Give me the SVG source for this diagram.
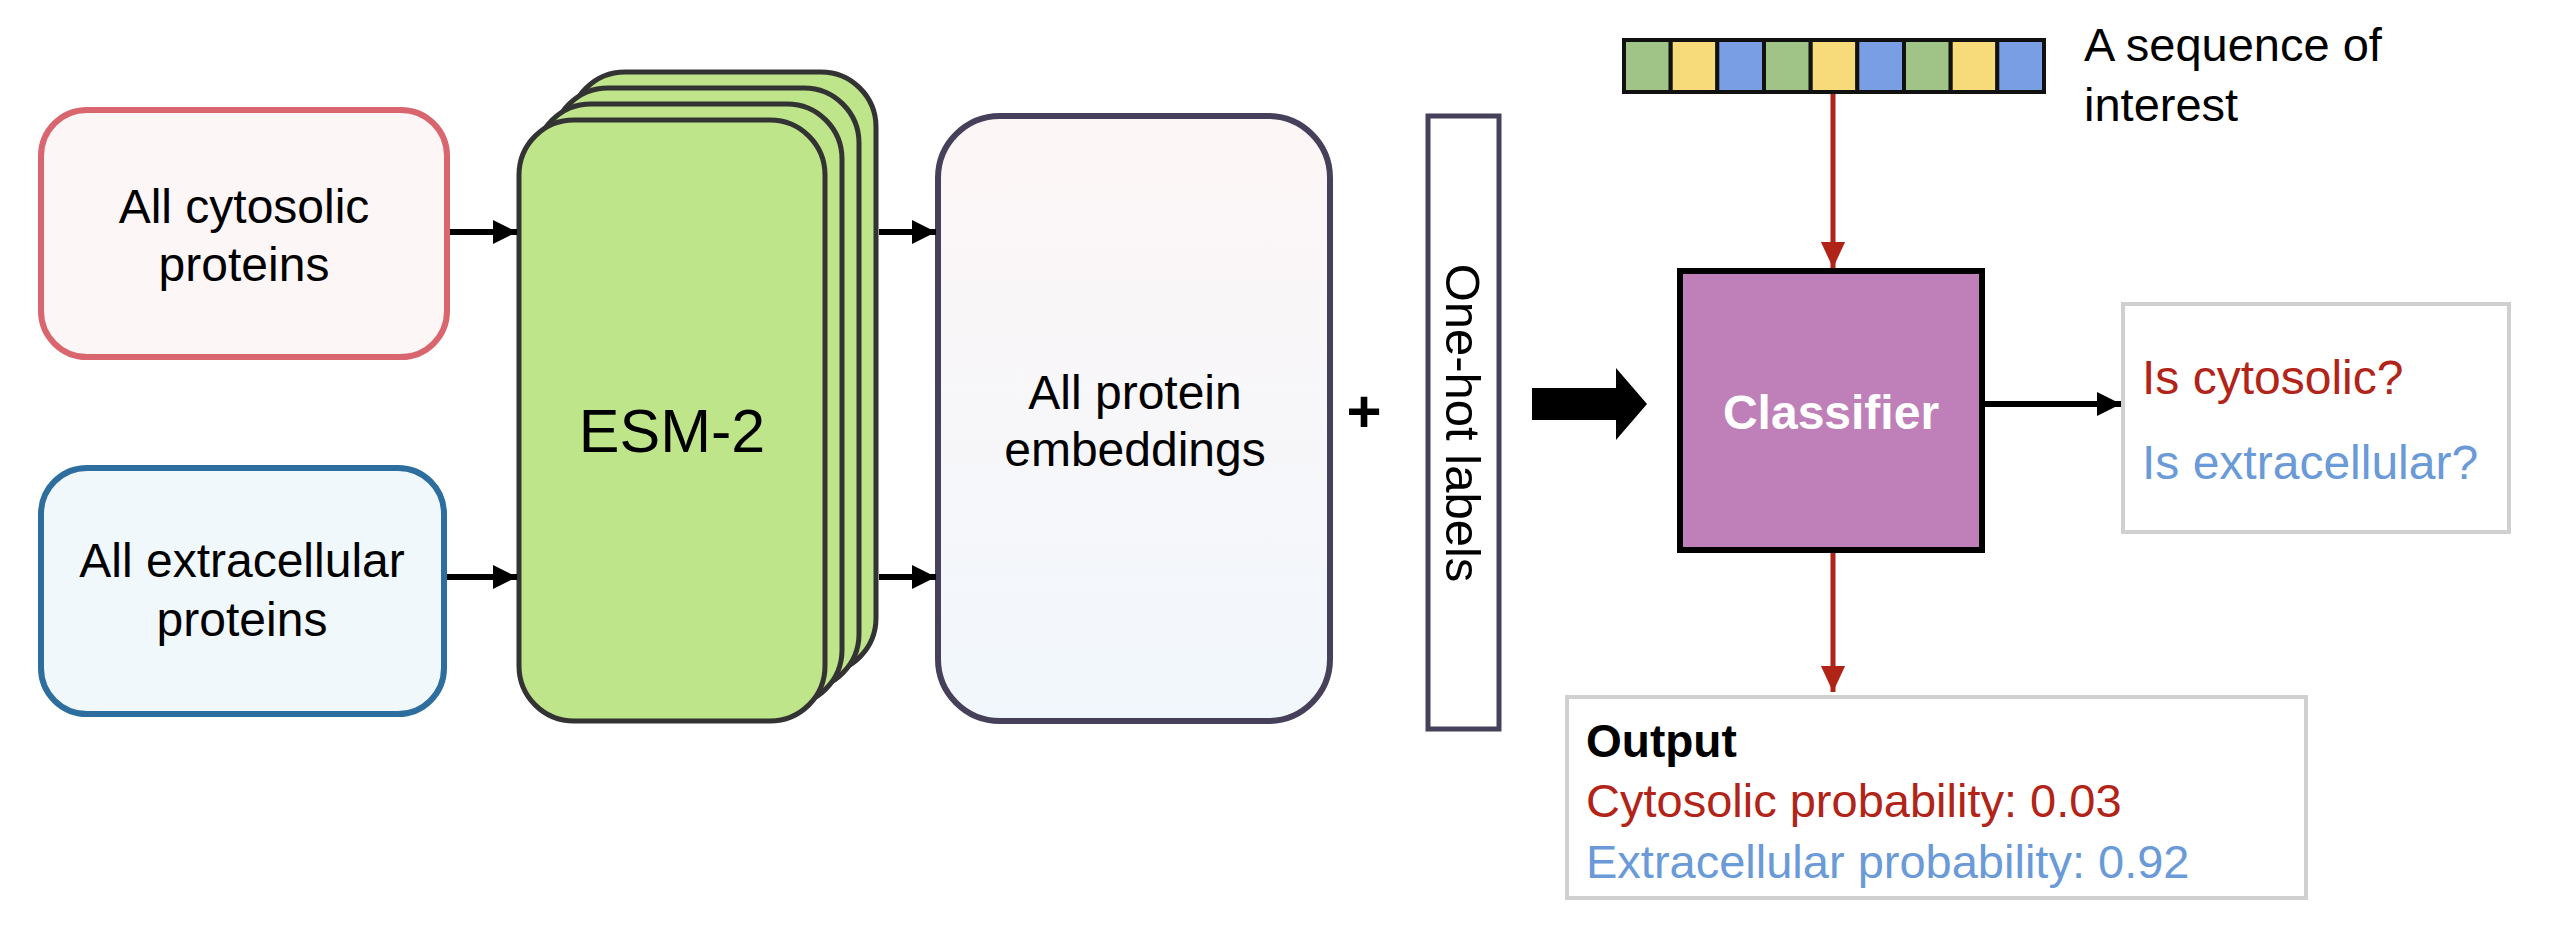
<svg xmlns="http://www.w3.org/2000/svg" width="2568" height="942" viewBox="0 0 2568 942">
<defs>
<style>
.t{font-family:"Liberation Sans",Arial,sans-serif;fill:#000}
.c{text-anchor:middle}
.card{fill:#BFE58A;stroke:#333333;stroke-width:5}
.blk{stroke:#000;stroke-width:6;fill:none}
.red{stroke:#B02418;stroke-width:5;fill:none}
.seq{stroke:#111;stroke-width:4}
</style>
<marker id="ab" markerUnits="userSpaceOnUse" markerWidth="26" markerHeight="26" refX="24" refY="13" orient="auto"><path d="M0,1 L24,13 L0,25 z" fill="#000"/></marker>
<marker id="ar" markerUnits="userSpaceOnUse" markerWidth="26" markerHeight="30" refX="28" refY="13" orient="auto" viewBox="0 0 28 26"><path d="M0,0 L28,13 L0,26 z" fill="#B02418"/></marker>
<linearGradient id="gEmb" x1="0" y1="0" x2="0" y2="1"><stop offset="0" stop-color="#FDF6F6"/><stop offset="1" stop-color="#F1F7FC"/></linearGradient>
</defs>
<rect width="2568" height="942" fill="#fff"/>

<g id="cytosolic">
<rect x="41" y="110" width="406" height="247" rx="46" fill="#FDF6F6" stroke="#D9666F" stroke-width="6"/>
<text class="t c" x="244" y="223" font-size="48">All cytosolic</text>
<text class="t c" x="244" y="281" font-size="48">proteins</text>
</g>

<g id="extracellular">
<rect x="41" y="468" width="403" height="246" rx="46" fill="#F1F8FC" stroke="#2E6E9E" stroke-width="6"/>
<text class="t c" x="242" y="577" font-size="48">All extracellular</text>
<text class="t c" x="242" y="636" font-size="48">proteins</text>
</g>

<g id="esm2">
<rect class="card" x="570" y="72" width="306" height="601" rx="55"/>
<rect class="card" x="553" y="88" width="306" height="601" rx="55"/>
<rect class="card" x="536" y="104" width="306" height="601" rx="55"/>
<rect class="card" x="519" y="120" width="306" height="601" rx="55"/>
<text class="t c" x="672" y="452" font-size="61">ESM-2</text>
</g>

<g id="embeddings">
<rect x="938" y="116" width="392" height="605" rx="62" fill="url(#gEmb)" stroke="#46405A" stroke-width="6"/>
<text class="t c" x="1135" y="409" font-size="48">All protein</text>
<text class="t c" x="1135" y="466" font-size="48">embeddings</text>
</g>

<g id="plus">
<text class="t c" x="1364" y="432" font-size="60" font-weight="bold">+</text>
</g>

<g id="onehot">
<rect x="1428" y="116" width="71" height="613" fill="#fff" stroke="#46405A" stroke-width="5"/>
<text class="t c" transform="translate(1463,423) rotate(90)" x="0" y="17" font-size="49">One-hot labels</text>
</g>

<g id="sequence">
<rect x="1624" y="40" width="420" height="52" fill="#fff" class="seq"/>
<rect x="1624" y="40" width="46.7" height="52" fill="#A0C487" class="seq"/>
<rect x="1670.7" y="40" width="46.7" height="52" fill="#F7DA7A" class="seq"/>
<rect x="1717.3" y="40" width="46.7" height="52" fill="#7A9EE4" class="seq"/>
<rect x="1764" y="40" width="46.7" height="52" fill="#A0C487" class="seq"/>
<rect x="1810.7" y="40" width="46.7" height="52" fill="#F7DA7A" class="seq"/>
<rect x="1857.3" y="40" width="46.7" height="52" fill="#7A9EE4" class="seq"/>
<rect x="1904" y="40" width="46.7" height="52" fill="#A0C487" class="seq"/>
<rect x="1950.7" y="40" width="46.7" height="52" fill="#F7DA7A" class="seq"/>
<rect x="1997.3" y="40" width="46.7" height="52" fill="#7A9EE4" class="seq"/>
<text class="t" x="2084" y="61" font-size="47">A sequence of</text>
<text class="t" x="2084" y="121" font-size="47">interest</text>
</g>

<g id="classifier">
<rect x="1680" y="271" width="302" height="279" fill="#BF80B9" stroke="#000" stroke-width="6"/>
<text class="c" x="1831" y="429" font-size="48" font-weight="bold" fill="#fff" font-family="Liberation Sans,Arial,sans-serif">Classifier</text>
</g>

<g id="question">
<rect x="2123" y="304" width="386" height="228" fill="#fff" stroke="#D0D0D0" stroke-width="4"/>
<text x="2142" y="394" font-size="48" fill="#B22418" font-family="Liberation Sans,Arial,sans-serif">Is cytosolic?</text>
<text x="2142" y="479" font-size="48" fill="#6A9AD8" font-family="Liberation Sans,Arial,sans-serif">Is extracellular?</text>
</g>

<g id="output">
<rect x="1567" y="697" width="739" height="201" fill="#fff" stroke="#D0D0D0" stroke-width="4"/>
<text class="t" x="1586" y="757" font-size="46" font-weight="bold">Output</text>
<text x="1586" y="817" font-size="47" fill="#B22418" font-family="Liberation Sans,Arial,sans-serif">Cytosolic probability: 0.03</text>
<text x="1586" y="878" font-size="47" fill="#6A9AD8" font-family="Liberation Sans,Arial,sans-serif">Extracellular probability: 0.92</text>
</g>

<g id="connectors">
<line class="blk" x1="450" y1="232" x2="517" y2="232" marker-end="url(#ab)"/>
<line class="blk" x1="447" y1="577" x2="517" y2="577" marker-end="url(#ab)"/>
<line class="blk" x1="879" y1="232" x2="936" y2="232" marker-end="url(#ab)"/>
<line class="blk" x1="879" y1="577" x2="936" y2="577" marker-end="url(#ab)"/>
<path d="M1532,388 L1616,388 L1616,368 L1647,404 L1616,440 L1616,420 L1532,420 z" fill="#000"/>
<line class="blk" x1="1985" y1="404" x2="2121" y2="404" marker-end="url(#ab)"/>
<line class="red" x1="1833" y1="94" x2="1833" y2="268" marker-end="url(#ar)"/>
<line class="red" x1="1833" y1="553" x2="1833" y2="692" marker-end="url(#ar)"/>
</g>
</svg>
